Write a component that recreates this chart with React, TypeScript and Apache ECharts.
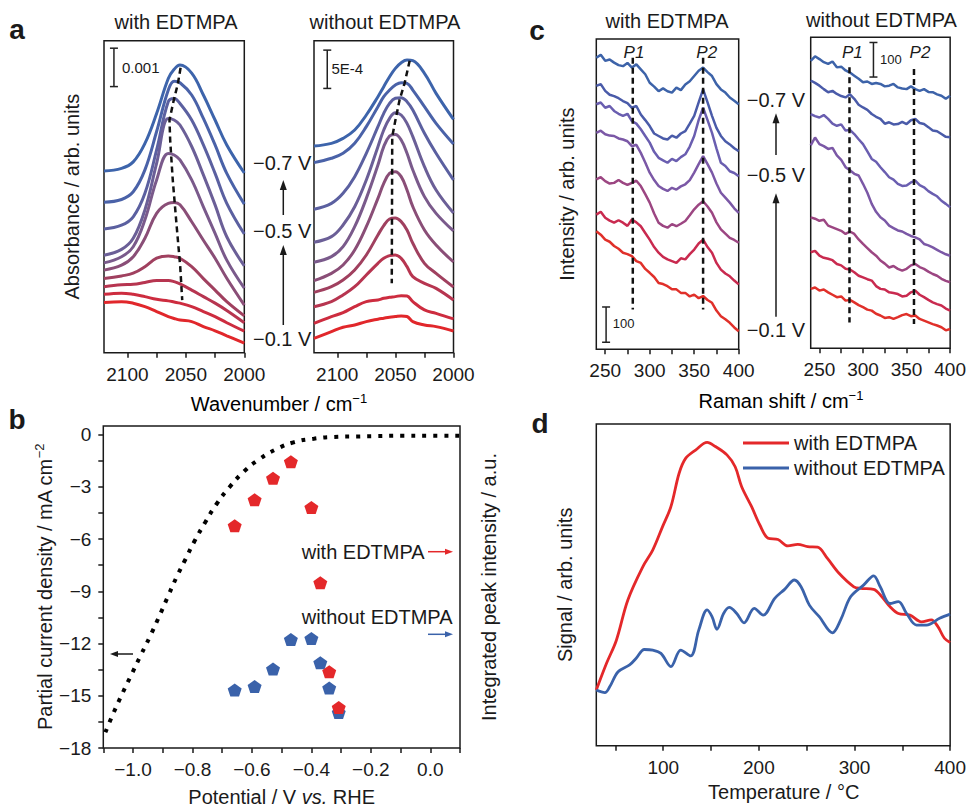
import React, { useEffect, useRef } from 'react';
import * as echarts from 'echarts';

const FONT = '"Liberation Sans", Arial, Helvetica, sans-serif';
const INK = '#1a1a1a';
const MINUS = '\u2212';

// ---------- Panel a : IR spectra (absorbance, units of 1e-3 for "with", 1e-4 for "without") ----------
const aWithWavenumbers = [2120, 2105, 2095, 2085, 2075, 2065, 2060, 2055, 2045, 2035, 2025, 2015, 2000];
const aWithSpectra = [
  [4.73, 4.80, 4.97, 5.45, 6.23, 7.14, 7.38, 7.49, 7.28, 6.71, 6.06, 5.41, 4.68],
  [3.92, 3.99, 4.19, 4.76, 5.76, 6.84, 7.07, 7.03, 6.71, 6.10, 5.41, 4.67, 3.87],
  [3.22, 3.32, 3.54, 4.15, 5.28, 6.54, 6.62, 6.49, 6.06, 5.41, 4.67, 3.89, 3.09],
  [2.54, 2.69, 2.98, 3.72, 4.93, 6.10, 6.06, 5.93, 5.37, 4.63, 3.85, 3.02, 2.26],
  [2.34, 2.50, 2.76, 3.46, 4.50, 5.19, 5.15, 5.02, 4.50, 3.80, 3.11, 2.41, 1.68],
  [2.15, 2.28, 2.50, 2.98, 3.63, 3.89, 3.91, 3.85, 3.41, 2.93, 2.46, 1.94, 1.24],
  [1.93, 2.00, 2.07, 2.24, 2.46, 2.52, 2.50, 2.46, 2.24, 1.93, 1.63, 1.33, 0.96],
  [1.72, 1.77, 1.78, 1.83, 1.88, 1.88, 1.85, 1.79, 1.63, 1.46, 1.29, 1.10, 0.78],
  [1.52, 1.55, 1.52, 1.46, 1.39, 1.35, 1.32, 1.29, 1.20, 1.07, 0.94, 0.78, 0.56],
  [1.31, 1.33, 1.29, 1.20, 1.07, 0.94, 0.89, 0.85, 0.81, 0.68, 0.57, 0.44, 0.25],
];
const aWithPeakTrace = [[2054.5, 7.42], [2056.8, 7.01], [2060.6, 6.54], [2064.0, 6.06], [2063.4, 5.54], [2061.2, 4.50], [2057.8, 3.28], [2054.8, 2.24], [2053.1, 1.37]];
const aWithScaleBar = [[2111.5, 6.93], [2111.5, 7.93]];

const aWithoutWavenumbers = [2120, 2105, 2095, 2085, 2075, 2065, 2060, 2055, 2050, 2045, 2040, 2035, 2025, 2015, 2000];
const aWithoutSpectra = [
  [26.98, 27.33, 27.98, 29.07, 31.03, 33.42, 34.73, 36.03, 37.12, 37.86, 38.21, 38.12, 36.47, 33.86, 30.46],
  [24.81, 25.38, 26.03, 27.33, 29.51, 32.12, 33.42, 34.29, 34.94, 35.25, 35.16, 34.29, 32.12, 29.94, 27.24],
  [18.72, 19.50, 20.81, 22.98, 26.03, 29.51, 31.25, 32.55, 33.21, 33.29, 32.77, 31.68, 28.64, 26.03, 22.55],
  [14.42, 15.15, 16.67, 19.06, 22.55, 26.90, 29.07, 30.60, 31.34, 31.03, 29.94, 28.20, 24.29, 21.24, 18.24],
  [11.80, 12.54, 13.84, 16.45, 20.15, 24.50, 26.90, 28.29, 28.50, 27.77, 26.03, 23.85, 20.37, 18.19, 15.89],
  [9.40, 10.36, 11.45, 13.40, 16.45, 20.15, 22.11, 23.42, 23.63, 22.98, 21.24, 19.06, 16.02, 14.06, 11.84],
  [7.88, 8.62, 9.49, 10.80, 12.76, 15.37, 16.59, 17.46, 17.59, 17.11, 16.02, 14.28, 11.67, 10.36, 8.58],
  [6.01, 6.67, 7.54, 8.62, 10.15, 11.67, 12.32, 12.67, 12.76, 12.32, 11.23, 9.93, 9.06, 8.40, 6.88],
  [3.84, 4.71, 5.23, 6.01, 6.67, 6.88, 7.10, 7.23, 7.32, 7.45, 7.41, 6.67, 5.58, 5.14, 4.41],
  [1.88, 2.75, 3.32, 3.62, 4.06, 4.37, 4.50, 4.63, 4.72, 4.80, 4.72, 4.06, 3.62, 3.40, 2.84],
];
const aWithoutPeakTrace = [[2037.7, 38.12], [2042.1, 35.16], [2046.4, 33.0], [2049.9, 30.4], [2052.7, 28.2], [2053.1, 9.06]];
const aWithoutScaleBar = [[2108.6, 34.5], [2108.6, 39.5]];
const aColors = ['#3d64ab', '#4a62a8', '#5b60a0', '#6b5f97', '#7a5a8b', '#8a4e77', '#a0405f', '#b73550', '#cd2c3f', '#e1272b'];
const aTickValues = [2000, 2025, 2050, 2075, 2100];
const aLabelValues = [2000, 2050, 2100];

// ---------- Panel b ----------
const bPotential = [-1.093, -1.065, -1.034, -1.003, -0.972, -0.942, -0.911, -0.882, -0.854, -0.824, -0.793, -0.757, -0.72, -0.675, -0.626, -0.574, -0.521, -0.46, -0.392, -0.325, -0.247, -0.18, -0.1, 0, 0.1];
const bCurrent = [-17.1, -15.96, -14.8, -13.7, -12.6, -11.56, -10.4, -9.27, -8.2, -7.17, -6.11, -5.03, -4.01, -3.0, -2.1, -1.39, -0.86, -0.44, -0.23, -0.13, -0.1, -0.08, -0.06, -0.06, -0.06];
const bPeakPotential = [-0.658, -0.591, -0.529, -0.469, -0.400, -0.370, -0.340, -0.308];
const bPeakWith = [69.0, 77.1, 83.8, 88.9, 74.7, 51.3, 23.7, 12.6];
const bPeakWithout = [18.0, 19.1, 24.5, 33.7, 34.0, 26.5, 18.6, 11.05];
const bXTicks = [-1.1, -1.0, -0.9, -0.8, -0.7, -0.6, -0.5, -0.4, -0.3, -0.2, -0.1, 0, 0.1];
const bXLabels = [-1.0, -0.8, -0.6, -0.4, -0.2, 0];
const bYTicks = [-18, -16.5, -15, -13.5, -12, -10.5, -9, -7.5, -6, -4.5, -3, -1.5, 0];
const bYLabels = [-18, -15, -12, -9, -6, -3, 0];

// ---------- Panel c : Raman spectra (counts) ----------
const cWavenumbers = [240, 245, 250, 255, 260, 265, 270, 275, 280, 285, 290, 295, 300, 305, 310, 315, 320, 325, 330, 335, 340, 345, 350, 355, 360, 365, 370, 375, 380, 385, 390, 395, 400];
const cWithSpectra = [
  [827, 835, 818, 822, 813, 806, 803, 812, 799, 808, 794, 780, 756, 745, 732, 740, 732, 728, 742, 735, 751, 760, 775, 790, 799, 786, 775, 752, 737, 728, 714, 705, 695],
  [747, 752, 733, 722, 718, 712, 704, 698, 685, 690, 666, 650, 633, 612, 605, 598, 595, 606, 600, 612, 619, 640, 662, 700, 737, 700, 662, 628, 605, 590, 581, 570, 562],
  [695, 700, 685, 690, 676, 668, 662, 668, 647, 640, 624, 605, 586, 560, 543, 536, 529, 540, 534, 545, 553, 575, 605, 650, 685, 650, 614, 570, 529, 520, 505, 500, 491],
  [614, 620, 610, 606, 605, 598, 595, 590, 576, 580, 557, 530, 501, 480, 463, 455, 449, 458, 453, 462, 468, 480, 501, 525, 548, 525, 501, 470, 444, 430, 416, 400, 387],
  [482, 488, 477, 470, 472, 480, 472, 466, 472, 478, 463, 440, 416, 385, 359, 350, 345, 355, 349, 356, 364, 380, 397, 410, 420, 405, 387, 360, 340, 328, 316, 310, 302],
  [382, 390, 373, 365, 359, 366, 359, 350, 368, 360, 349, 330, 311, 290, 274, 262, 255, 250, 245, 258, 255, 270, 283, 300, 311, 290, 274, 245, 226, 215, 207, 195, 184],
  [335, 325, 311, 305, 293, 285, 274, 270, 264, 250, 245, 228, 217, 205, 188, 185, 179, 170, 170, 160, 160, 150, 155, 145, 151, 140, 132, 110, 94, 85, 75, 62, 51],
];
const cWithoutSpectra = [
  [832, 845, 837, 828, 823, 830, 813, 815, 804, 798, 789, 780, 770, 772, 765, 768, 765, 758, 760, 765, 755, 752, 750, 758, 750, 745, 750, 742, 741, 735, 731, 722, 731],
  [775, 768, 760, 750, 741, 745, 736, 730, 726, 735, 722, 705, 697, 690, 678, 670, 664, 650, 654, 648, 649, 655, 649, 660, 664, 652, 649, 640, 630, 628, 620, 612, 611],
  [678, 672, 668, 675, 664, 650, 644, 648, 630, 632, 620, 605, 591, 570, 548, 540, 524, 510, 495, 488, 476, 470, 471, 480, 485, 472, 466, 455, 447, 440, 427, 418, 408],
  [587, 610, 591, 585, 577, 580, 558, 545, 524, 515, 505, 500, 476, 450, 418, 395, 379, 370, 355, 348, 341, 338, 331, 325, 321, 315, 302, 298, 292, 285, 278, 272, 268],
  [379, 375, 369, 372, 355, 350, 345, 340, 331, 338, 331, 315, 302, 290, 278, 268, 254, 245, 234, 238, 230, 225, 230, 240, 244, 235, 230, 222, 215, 210, 201, 195, 191],
  [278, 282, 268, 262, 259, 255, 244, 240, 230, 228, 220, 210, 205, 200, 196, 180, 172, 170, 162, 160, 157, 150, 152, 162, 167, 155, 148, 140, 133, 128, 124, 115, 109],
  [172, 176, 167, 170, 162, 155, 148, 150, 138, 140, 133, 125, 119, 112, 109, 100, 95, 88, 90, 85, 90, 96, 99, 93, 95, 85, 80, 75, 70, 66, 61, 52, 56],
];
const cColors = ['#3d63a9', '#4a5ba9', '#6a5eb0', '#7b58a6', '#9c4682', '#c92a4f', '#e0302a'];
const cWithP1 = [[281, 827], [281, 113]];
const cWithP2 = [[360, 827], [360, 113]];
const cWithoutP1 = [[284.5, 813], [284.5, 75]];
const cWithoutP2 = [[358.5, 808], [358.5, 70]];
const cWithScaleBar = [[251, 20], [251, 120]];
const cWithoutScaleBar = [[312, 785], [312, 885]];
const cTickValues = [250, 275, 300, 325, 350, 375, 400];
const cLabelValues = [250, 300, 350, 400];

// ---------- Panel d : TPD ----------
const dTempWith = [30, 40.7, 51, 63, 78.6, 89, 99.3, 108, 116.6, 123.4, 133.8, 145.9, 154.5, 166.6, 175.2, 182, 192.4, 201, 209.7, 220, 230.3, 240.7, 251, 261.4, 271.7, 283.8, 299.3, 306.2, 320, 328.6, 337.2, 345.9, 358, 370, 380.3, 387.2, 394, 400];
const dSignalWith = [17.3, 25.6, 32.8, 45.3, 55.6, 60.8, 68.1, 74.3, 84.7, 89.3, 91.9, 94.3, 93.0, 90.4, 86.7, 80.5, 74.3, 68.6, 64.5, 64.1, 62.1, 62.6, 61.9, 61.7, 58.2, 53.6, 49.4, 48.9, 48.6, 46.3, 43.2, 41.1, 40.6, 38.5, 39.1, 37.0, 33.4, 32.1];
const dTempWithout = [30, 39, 44, 52.8, 64.8, 71.7, 80.3, 89, 97.6, 108, 118.3, 128.6, 137.2, 145.9, 151, 156.2, 163.1, 169, 176.9, 184.5, 195.2, 204.5, 216.6, 226.9, 237.2, 244.1, 252.8, 263.1, 276.9, 285.5, 295.9, 309.7, 320, 326.9, 337.2, 345.9, 354.5, 364.8, 375.2, 389, 400];
const dSignalWithout = [17.3, 16.5, 18.3, 23.0, 25.1, 27.2, 29.9, 29.7, 28.7, 24.6, 29.7, 27.9, 36.0, 42.2, 40.1, 36.2, 41.1, 43.0, 41.1, 38.2, 42.7, 40.6, 45.8, 48.6, 51.5, 49.4, 43.7, 40.1, 35.1, 39.1, 46.3, 50.0, 52.8, 49.4, 44.2, 44.8, 41.1, 37.5, 37.5, 39.6, 40.9];
const dTickValues = [50, 100, 150, 200, 250, 300, 350, 400];
const dLabelValues = [100, 200, 300, 400];

const RED = '#e4282a';
const BLUE = '#3a62aa';
const PENTAGON = 'path://M10,0 L19.51,6.91 L15.88,18.09 L4.12,18.09 L0.49,6.91 Z';

const fmtMinus = (v: number, d = 0) => {
  const s = Math.abs(v).toFixed(d);
  return (v < -1e-9 ? MINUS : '') + s;
};

const tickLabelStyle = { fontSize: 19, color: INK, fontFamily: FONT };
const nameStyle = { fontSize: 20, color: INK, fontFamily: FONT };
const supRich = {
  n: { fontSize: 20, color: INK, fontFamily: FONT, lineHeight: 24 },
  s: { fontSize: 13, color: INK, fontFamily: FONT, lineHeight: 14, verticalAlign: 'top' },
  i: { fontSize: 20, color: INK, fontFamily: FONT, lineHeight: 24, fontStyle: 'italic' },
};

function hiddenY(gridIndex: number, min: number, max: number, extra: any = {}) {
  return {
    type: 'value', gridIndex, min, max,
    axisLine: { show: false, onZero: false }, axisTick: { show: false }, axisLabel: { show: false }, splitLine: { show: false },
    nameTextStyle: nameStyle, nameLocation: 'middle', nameRotate: 90,
    ...extra,
  };
}

function tickedX(gridIndex: number, min: number, max: number, ticks: number[], labels: number[], extra: any = {}, fmt?: (v: number) => string) {
  return {
    type: 'value', gridIndex, min, max, position: 'bottom',
    axisLine: { show: false, onZero: false },
    axisTick: { show: true, customValues: ticks, length: 5, lineStyle: { color: INK, width: 1.5 } },
    axisLabel: { show: true, customValues: labels, margin: 12, ...tickLabelStyle, formatter: fmt || ((v: number) => String(v)) },
    splitLine: { show: false },
    ...extra,
  };
}

function buildOption() {
  const frame = { show: true, borderColor: INK, borderWidth: 1.5, backgroundColor: 'transparent' };
  const grid = [
    { left: 104, top: 40.7, width: 140.3, height: 312, ...frame },
    { left: 314, top: 40.7, width: 139.5, height: 312, ...frame },
    { left: 103.3, top: 426, width: 356.7, height: 323, ...frame },
    { left: 596.3, top: 39, width: 142.4, height: 310.3, ...frame },
    { left: 810.7, top: 37.3, width: 142.6, height: 311, ...frame },
    { left: 596.3, top: 424, width: 357.4, height: 321.7, ...frame },
  ];

  const xAxis = [
    tickedX(0, 2000, 2120, aTickValues, aLabelValues, { inverse: true }),
    tickedX(1, 2000, 2120, aTickValues, aLabelValues, { inverse: true }),
    tickedX(2, -1.1, 0.1, bXTicks, bXLabels, {
      name: '{n|Potential / V }{i|vs.}{n| RHE}', nameLocation: 'middle', nameGap: 37,
      nameTextStyle: { rich: supRich },
    }, (v: number) => fmtMinus(v, 1)),
    tickedX(3, 240, 400, cTickValues, cLabelValues),
    tickedX(4, 240, 400, cTickValues, cLabelValues),
    tickedX(5, 30, 400, dTickValues, dLabelValues, {
      name: 'Temperature / °C', nameLocation: 'middle', nameGap: 36,
      nameTextStyle: { ...nameStyle, padding: [0, 0, 0, 21] },
    }),
  ];

  const yAxis = [
    hiddenY(0, 0, 8.125, { name: 'Absorbance / arb. units', nameGap: 22 }),
    hiddenY(1, 0, 40.73),
    {
      type: 'value', gridIndex: 2, min: -18, max: 0.5, position: 'left',
      axisLine: { show: false, onZero: false },
      axisTick: { show: true, customValues: bYTicks, length: 5, lineStyle: { color: INK, width: 1.5 } },
      axisLabel: { show: true, customValues: bYLabels, margin: 12, ...tickLabelStyle, formatter: (v: number) => fmtMinus(v, 0) },
      splitLine: { show: false },
      name: '{n|Partial current density / mA cm}{s|' + MINUS + '2}', nameLocation: 'middle', nameGap: 46, nameRotate: 90,
      nameTextStyle: { rich: supRich },
    },
    hiddenY(3, 0, 880, { name: 'Intensity / arb. units', nameGap: 19 }),
    hiddenY(4, 0, 900),
    hiddenY(5, 0, 100, { name: 'Signal / arb. units', nameGap: 21 }),
    hiddenY(2, 0, 100, { position: 'right', name: 'Integrated peak intensity / a.u.', nameGap: 19 }),
  ];

  const series: any[] = [];
  const line = (xi: number, yi: number, data: number[][], color: string, width: number, extra: any = {}) => ({
    type: 'line', xAxisIndex: xi, yAxisIndex: yi, data, showSymbol: false, symbol: 'none', silent: true,
    lineStyle: { color, width }, itemStyle: { color }, ...extra,
  });
  const dashed = (xi: number, yi: number, data: number[][]) =>
    line(xi, yi, data, '#111', 2.5, { lineStyle: { color: '#111', width: 2.5, type: [6, 4] }, z: 5 });
  const scaleBar = (xi: number, yi: number, data: number[][]) =>
    line(xi, yi, data, '#222', 1.5, { symbol: 'rect', symbolSize: [8, 1.5], showSymbol: true, z: 5 });

  // Panel a
  aWithSpectra.forEach((ys, i) => series.push(line(0, 0, aWithWavenumbers.map((w, j) => [w, ys[j]]), aColors[i], 3, { smooth: 0.4 })));
  series.push(dashed(0, 0, aWithPeakTrace));
  series.push(scaleBar(0, 0, aWithScaleBar));
  aWithoutSpectra.forEach((ys, i) => series.push(line(1, 1, aWithoutWavenumbers.map((w, j) => [w, ys[j]]), aColors[i], 3, { smooth: 0.4 })));
  series.push(dashed(1, 1, aWithoutPeakTrace));
  series.push(scaleBar(1, 1, aWithoutScaleBar));

  // Panel b
  series.push(line(2, 2, bPotential.map((p, i) => [p, bCurrent[i]]), '#000', 4, {
    smooth: true, lineStyle: { color: '#000', width: 4, type: [4, 7] },
  }));
  series.push({
    type: 'scatter', name: 'b without', xAxisIndex: 2, yAxisIndex: 6, symbol: PENTAGON, symbolSize: [14, 13],
    itemStyle: { color: BLUE, opacity: 1 }, data: bPeakPotential.map((p, i) => [p, bPeakWithout[i]]), silent: true,
  });
  series.push({
    type: 'scatter', name: 'b with', xAxisIndex: 2, yAxisIndex: 6, symbol: PENTAGON, symbolSize: [14, 13],
    itemStyle: { color: RED, opacity: 1 }, data: bPeakPotential.map((p, i) => [p, bPeakWith[i]]), silent: true,
  });

  // Panel c
  cWithSpectra.forEach((ys, i) => series.push(line(3, 3, cWavenumbers.map((w, j) => [w, ys[j]]), cColors[i], 2.5)));
  series.push(dashed(3, 3, cWithP1));
  series.push(dashed(3, 3, cWithP2));
  series.push(scaleBar(3, 3, cWithScaleBar));
  cWithoutSpectra.forEach((ys, i) => series.push(line(4, 4, cWavenumbers.map((w, j) => [w, ys[j]]), cColors[i], 2.5)));
  series.push(dashed(4, 4, cWithoutP1));
  series.push(dashed(4, 4, cWithoutP2));
  series.push(scaleBar(4, 4, cWithoutScaleBar));

  // Panel d
  series.push(line(5, 5, dTempWith.map((t, i) => [t, dSignalWith[i]]), RED, 2.8, { name: 'with EDTMPA', smooth: 0.35 }));
  series.push(line(5, 5, dTempWithout.map((t, i) => [t, dSignalWithout[i]]), BLUE, 2.8, { name: 'without EDTMPA', smooth: 0.35 }));

  // Annotations
  const txt = (x: number, y: number, text: string, o: any = {}) => ({
    type: 'text', x, y, silent: true,
    style: { text, fontSize: 20, fontFamily: FONT, fill: INK, align: 'left', verticalAlign: 'middle', ...o },
  });
  const richTxt = (x: number, y: number, text: string) => ({
    type: 'text', x, y, silent: true,
    style: { text, align: 'center', verticalAlign: 'middle', rich: supRich },
  });
  const vArrowUp = (x: number, yBottom: number, yTip: number) => [
    { type: 'line', silent: true, shape: { x1: x, y1: yBottom, x2: x, y2: yTip + 8 }, style: { stroke: INK, lineWidth: 1.5 } },
    { type: 'polygon', silent: true, shape: { points: [[x, yTip], [x - 3.5, yTip + 10], [x + 3.5, yTip + 10]] }, style: { fill: INK } },
  ];
  const hArrow = (x0: number, x1: number, y: number, color: string) => {
    const dir = x1 > x0 ? 1 : -1;
    return [
      { type: 'line', silent: true, shape: { x1: x0, y1: y, x2: x1 - dir * 6, y2: y }, style: { stroke: color, lineWidth: 1.5 } },
      { type: 'polygon', silent: true, shape: { points: [[x1, y], [x1 - dir * 8, y - 3], [x1 - dir * 8, y + 3]] }, style: { fill: color } },
    ];
  };
  const bold = { fontWeight: 'bold', fontSize: 28, align: 'center' };

  const elements: any[] = [
    txt(17, 29, 'a', bold), txt(17, 419, 'b', bold), txt(537, 30, 'c', bold), txt(540, 423, 'd', bold),
    txt(176, 22, 'with EDTMPA', { align: 'center' }),
    txt(385, 22, 'without EDTMPA', { align: 'center' }),
    txt(667, 21, 'with EDTMPA', { align: 'center' }),
    txt(881.5, 20, 'without EDTMPA', { align: 'center' }),
    txt(253, 163.3, MINUS + '0.7 V'), txt(253, 231, MINUS + '0.5 V'), txt(253, 339.3, MINUS + '0.1 V'),
    ...vArrowUp(283.3, 325, 245), ...vArrowUp(283.3, 215, 180),
    txt(746.7, 100, MINUS + '0.7 V'), txt(746.7, 175, MINUS + '0.5 V'), txt(746.7, 330, MINUS + '0.1 V'),
    ...vArrowUp(776, 316.7, 193.3), ...vArrowUp(776, 155, 113.3),
    txt(122, 67, '0.001', { fontSize: 15 }),
    txt(331.5, 68, '5E-4', { fontSize: 15 }),
    txt(612.7, 323, '100', { fontSize: 13 }),
    txt(880, 59, '100', { fontSize: 13 }),
    txt(634, 52, 'P1', { fontSize: 17, fontStyle: 'italic', align: 'center' }),
    txt(706.7, 52, 'P2', { fontSize: 17, fontStyle: 'italic', align: 'center' }),
    txt(852.3, 52, 'P1', { fontSize: 17, fontStyle: 'italic', align: 'center' }),
    txt(920, 52, 'P2', { fontSize: 17, fontStyle: 'italic', align: 'center' }),
    richTxt(279, 404, '{n|Wavenumber / cm}{s|' + MINUS + '1}'),
    richTxt(781, 401, '{n|Raman shift / cm}{s|' + MINUS + '1}'),
    txt(301.7, 551.7, 'with EDTMPA'),
    txt(301.7, 616.7, 'without EDTMPA'),
    ...hArrow(428, 453, 551.7, RED),
    ...hArrow(428, 453, 634.3, BLUE),
    ...hArrow(133, 110, 654, INK),
  ];

  return {
    animation: false,
    backgroundColor: '#ffffff',
    textStyle: { fontFamily: FONT },
    grid,
    xAxis,
    yAxis,
    legend: {
      data: ['with EDTMPA', 'without EDTMPA'],
      orient: 'vertical', left: 738, top: 428, itemWidth: 46, itemHeight: 3, itemGap: 5, icon: 'rect',
      selectedMode: false,
      textStyle: { fontSize: 20, fontFamily: FONT, color: INK, lineHeight: 20 },
    },
    series,
    graphic: { elements },
  };
}

export default function App() {
  const ref = useRef<HTMLDivElement>(null);
  useEffect(() => {
    document.body.style.margin = '0';
    const chart = echarts.init(ref.current as HTMLDivElement, null, { renderer: 'svg' });
    chart.setOption(buildOption() as any);
    return () => chart.dispose();
  }, []);
  return <div ref={ref} style={{ position: 'absolute', left: 0, top: 0, width: 969, height: 808, background: '#fff' }} />;
}
